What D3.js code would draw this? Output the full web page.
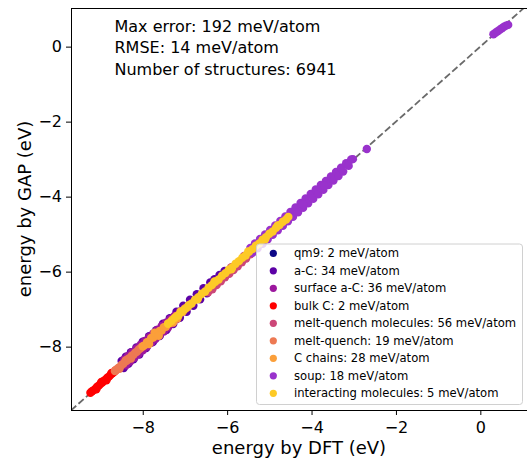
<!DOCTYPE html>
<html>
<head>
<meta charset="utf-8">
<script src="https://cdn.jsdelivr.net/npm/d3@7"></script>
<style>
  html, body { margin: 0; padding: 0; background: #fff; }
  svg { display: block; font-family: "DejaVu Sans", sans-serif; }
</style>
</head>
<body>
<div id="chart"></div>
<script>
// --- Data: [DFT energy, GAP energy] in eV/atom ---
const qm9Points = [[-6.2, -6.2], [-5.9, -5.9], [-5.6, -5.6], [-5.3, -5.3]];

const aCPoints = [
    [-8.50, -8.38], [-8.45, -8.57], [-8.40, -8.27], [-8.34, -8.46], [-8.28, -8.15], [-8.22, -8.34],
    [-8.15, -8.02], [-8.08, -8.21], [-8.00, -7.87], [-7.92, -8.04], [-7.85, -7.72], [-7.76, -7.88],
    [-7.68, -7.56], [-7.60, -7.72], [-7.52, -7.39], [-7.44, -7.56], [-7.36, -7.24], [-7.28, -7.40],
    [-7.20, -7.07], [-7.12, -7.23], [-7.04, -6.91], [-6.96, -7.07], [-6.88, -6.75], [-6.80, -6.91],
    [-6.72, -6.60], [-6.64, -6.74], [-6.56, -6.44], [-6.48, -6.58], [-6.40, -6.29], [-6.30, -6.20],
    [-6.18, -6.09], [-6.06, -5.98]
];

const surfaceACPoints = [
    [-8.44, -8.34], [-8.40, -8.50], [-8.35, -8.25], [-8.30, -8.40], [-8.25, -8.15], [-8.20, -8.30],
    [-8.15, -8.05], [-8.10, -8.20], [-8.05, -7.95], [-8.00, -8.10], [-7.95, -7.85], [-7.90, -8.00],
    [-7.85, -7.75], [-7.80, -7.90], [-7.75, -7.65], [-7.70, -7.80], [-7.65, -7.55], [-7.60, -7.70],
    [-7.55, -7.45], [-7.50, -7.60], [-7.45, -7.36], [-7.40, -7.49], [-7.35, -7.27], [-7.30, -7.38],
    [-7.25, -7.18], [-7.20, -7.27], [-7.12, -7.06]
];

const bulkCPoints = [
    [-9.24, -9.23], [-9.20, -9.19], [-9.16, -9.16], [-9.12, -9.12], [-9.08, -9.07], [-9.04, -9.04],
    [-9.00, -8.99], [-8.96, -8.96], [-8.92, -8.91], [-8.88, -8.88], [-8.84, -8.83], [-8.80, -8.80],
    [-8.76, -8.75], [-8.72, -8.71], [-8.68, -8.68], [-8.64, -8.63],
    [-9.10, -9.14], [-8.98, -8.94], [-8.86, -8.90], [-8.74, -8.70]
];

const meltQuenchMolPoints = [
    [-6.45, -6.55], [-6.35, -6.47], [-6.25, -6.36], [-6.15, -6.26], [-6.05, -6.15], [-5.95, -6.06],
    [-5.85, -5.96], [-5.75, -5.86], [-5.65, -5.75], [-5.55, -5.65], [-5.45, -5.54],
    [-6.30, -6.28], [-5.90, -5.88], [-5.60, -5.58]
];

const meltQuenchPoints = [
    [-8.66, -8.65], [-8.62, -8.61], [-8.58, -8.57], [-8.54, -8.54], [-8.50, -8.48], [-8.46, -8.46],
    [-8.42, -8.40], [-8.38, -8.38], [-8.34, -8.32], [-8.30, -8.30], [-8.26, -8.24], [-8.22, -8.22],
    [-8.18, -8.16], [-8.14, -8.14], [-8.10, -8.08], [-8.06, -8.05], [-8.02, -8.01],
    [-8.55, -8.59], [-8.40, -8.36], [-8.28, -8.32]
];

const cChainsPoints = [
    [-8.00, -7.99], [-7.95, -7.96], [-7.90, -7.88], [-7.85, -7.86], [-7.80, -7.77], [-7.75, -7.76],
    [-7.70, -7.68], [-7.65, -7.67], [-7.60, -7.58], [-7.55, -7.57], [-7.50, -7.48], [-7.45, -7.47],
    [-7.40, -7.38], [-7.35, -7.37], [-7.30, -7.28], [-7.25, -7.27], [-7.20, -7.18], [-7.15, -7.17],
    [-7.10, -7.08], [-7.05, -7.07], [-7.00, -6.98], [-6.95, -6.96], [-6.90, -6.89],
    [-7.85, -7.93], [-7.28, -7.36], [-7.72, -7.63], [-7.62, -7.71], [-7.18, -7.25]
];

const soupPoints = [
    [-5.45, -5.37], [-5.40, -5.50], [-5.34, -5.25], [-5.28, -5.38], [-5.22, -5.13], [-5.16, -5.26],
    [-5.10, -5.01], [-5.04, -5.14], [-4.98, -4.89], [-4.92, -5.02], [-4.86, -4.77], [-4.80, -4.90],
    [-4.74, -4.65], [-4.68, -4.78], [-4.62, -4.53], [-4.56, -4.66], [-4.50, -4.41], [-4.44, -4.54],
    [-4.38, -4.29], [-4.32, -4.42], [-4.26, -4.17], [-4.20, -4.30], [-4.14, -4.05], [-4.08, -4.18],
    [-4.02, -3.93], [-3.96, -4.06], [-3.90, -3.81], [-3.84, -3.94], [-3.78, -3.69], [-3.72, -3.82],
    [-3.66, -3.58], [-3.60, -3.69], [-3.54, -3.46], [-3.48, -3.57], [-3.42, -3.34], [-3.36, -3.45],
    [-3.30, -3.23], [-3.25, -3.33], [-3.18, -3.11], [-3.12, -3.18], [-3.06, -3.01], [-3.02, -3.00],
    [-4.70, -4.72], [-4.20, -4.21], [-3.70, -3.71], [-2.69, -2.73],
    [0.31, 0.33], [0.36, 0.37], [0.41, 0.41], [0.46, 0.45], [0.51, 0.49], [0.56, 0.53],
    [0.61, 0.56], [0.66, 0.58]
];

const interactingPoints = [
    [-7.40, -7.39], [-7.32, -7.32], [-7.24, -7.23], [-7.16, -7.17], [-7.08, -7.07], [-7.00, -7.00],
    [-6.92, -6.91], [-6.84, -6.85], [-6.76, -6.75], [-6.68, -6.68], [-6.60, -6.59], [-6.52, -6.53],
    [-6.44, -6.43], [-6.36, -6.36], [-6.28, -6.27], [-6.20, -6.21], [-6.12, -6.11], [-6.04, -6.04],
    [-5.96, -5.95], [-5.88, -5.89], [-5.80, -5.79], [-5.72, -5.72], [-5.64, -5.63], [-5.56, -5.57],
    [-5.48, -5.47], [-5.40, -5.40], [-5.32, -5.31], [-5.24, -5.25], [-5.16, -5.15], [-5.08, -5.08],
    [-5.00, -4.99], [-4.92, -4.93], [-4.84, -4.83], [-4.76, -4.76], [-4.68, -4.67], [-4.60, -4.61],
    [-4.55, -4.54],
    [-7.10, -7.06], [-6.70, -6.74], [-6.30, -6.26], [-5.90, -5.94], [-5.50, -5.46], [-5.10, -5.14],
    [-4.80, -4.77]
];

const seriesNames = ["qm9", "a-C", "surface a-C", "bulk C", "melt-quench molecules",
    "melt-quench", "C chains", "soup", "interacting molecules"];
const seriesErrors = [2, 34, 36, 2, 56, 19, 28, 18, 5];
const seriesPoints = [qm9Points, aCPoints, surfaceACPoints, bulkCPoints, meltQuenchMolPoints,
    meltQuenchPoints, cChainsPoints, soupPoints, interactingPoints];

const xTicks = [-8, -6, -4, -2, 0];
const yTicks = [-8, -6, -4, -2, 0];
const statLines = ["Max error: 192 meV/atom", "RMSE: 14 meV/atom", "Number of structures: 6941"];

// --- Styles ---
const palette = ["#0d0887", "#5c01a6", "#9c179e", "#ff0000", "#cc4778",
    "#ed7953", "#fb9f3a", "#9932cc", "#fdca26"];

const W = 527, H = 461;
const plot = { left: 71, right: 527, top: 8, bottom: 410 };

const svg = d3.select("#chart").append("svg")
    .attr("width", W)
    .attr("height", H);

const x = d3.scaleLinear().domain([-9.70, 1.10]).range([plot.left, plot.left + 10.8 * 42.2]);
const y = d3.scaleLinear().domain([-9.69, 1.03]).range([plot.bottom, plot.top]);

svg.append("clipPath").attr("id", "plot-clip")
    .append("rect")
    .attr("x", plot.left).attr("y", plot.top)
    .attr("width", plot.right - plot.left).attr("height", plot.bottom - plot.top);

const body = svg.append("g").attr("clip-path", "url(#plot-clip)");

// Parity line
body.append("line")
    .attr("x1", x(-9.7)).attr("y1", y(-9.7))
    .attr("x2", x(1.5)).attr("y2", y(1.5))
    .attr("stroke", "#6a6a6a")
    .attr("stroke-width", 1.8)
    .attr("stroke-dasharray", "7,3");

// Scatter, drawn in legend order so later sets sit on top
seriesPoints.forEach((pts, i) => {
    body.append("g")
        .selectAll("circle")
        .data(pts)
        .join("circle")
        .attr("cx", d => x(d[0]))
        .attr("cy", d => y(d[1]))
        .attr("r", 4.2)
        .attr("fill", palette[i]);
});

// --- Axes ---
const fmt = d3.format("d");

const xAxis = svg.append("g")
    .attr("transform", `translate(0,${plot.bottom})`)
    .call(d3.axisBottom(x).tickValues(xTicks).tickFormat(fmt).tickSize(5).tickPadding(7));

const yAxis = svg.append("g")
    .attr("transform", `translate(${plot.left},0)`)
    .call(d3.axisLeft(y).tickValues(yTicks).tickFormat(fmt).tickSize(5).tickPadding(4));

[xAxis, yAxis].forEach(ax => {
    ax.select(".domain").remove();
    ax.selectAll("line").attr("stroke", "#000").attr("stroke-width", 1);
    ax.selectAll("text")
        .attr("fill", "#000")
        .style("font-family", "DejaVu Sans, sans-serif")
        .style("font-size", "16px");
});

// Frame
svg.append("rect")
    .attr("x", plot.left + 0.5).attr("y", plot.top + 0.5)
    .attr("width", plot.right - plot.left + 2).attr("height", plot.bottom - plot.top)
    .attr("fill", "none")
    .attr("stroke", "#000")
    .attr("stroke-width", 1);

svg.append("text")
    .attr("x", (plot.left + plot.right) / 2)
    .attr("y", 454)
    .attr("text-anchor", "middle")
    .style("font-size", "18px")
    .text("energy by DFT (eV)");

svg.append("text")
    .attr("transform", `translate(31,${(plot.top + plot.bottom) / 2}) rotate(-90)`)
    .attr("text-anchor", "middle")
    .style("font-size", "18px")
    .text("energy by GAP (eV)");

// Stats annotation
svg.append("g").selectAll("text")
    .data(statLines)
    .join("text")
    .attr("x", 114.5)
    .attr("y", (d, i) => 31.5 + i * 21.8)
    .style("font-size", "16px")
    .text(d => d);

// --- Legend ---
const legend = svg.append("g");
legend.append("rect")
    .attr("x", 256.5).attr("y", 244)
    .attr("width", 266).attr("height", 160.5)
    .attr("rx", 3)
    .attr("fill", "#fff")
    .attr("fill-opacity", 0.8)
    .attr("stroke", "#d0d0d0")
    .attr("stroke-width", 1);

const rows = legend.selectAll("g.row")
    .data(seriesNames)
    .join("g")
    .attr("class", "row")
    .attr("transform", (d, i) => `translate(0,${253.3 + i * 17.5})`);

rows.append("circle")
    .attr("cx", 273.3)
    .attr("r", 3.6)
    .attr("fill", (d, i) => palette[i]);

rows.append("text")
    .attr("x", 294)
    .attr("dy", "0.36em")
    .style("font-size", "11.6px")
    .text((d, i) => `${d}: ${seriesErrors[i]} meV/atom`);
</script>
</body>
</html>
